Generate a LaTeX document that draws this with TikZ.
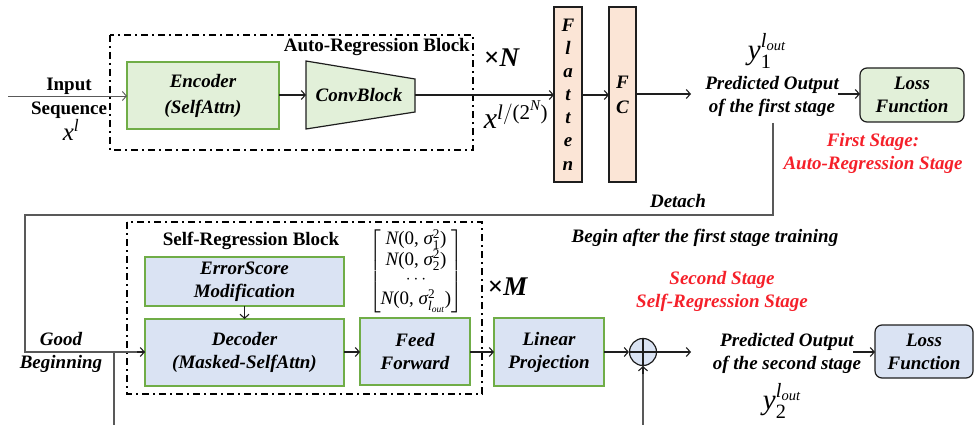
\documentclass[tikz,border=0pt]{standalone}
\usepackage{fontspec}
\setmainfont{Liberation Serif}
\usepackage{amsmath}
\usetikzlibrary{arrows.meta,calc}
\newcommand\myit[1]{\text{\normalfont\itshape #1}}
\newcommand\myrm[1]{\text{\normalfont #1}}
\definecolor{gfill}{HTML}{E2F0D9}
\definecolor{gline}{HTML}{70AD47}
\definecolor{bfill}{HTML}{DAE3F3}
\definecolor{pfill}{HTML}{FBE5D6}
\definecolor{dk}{HTML}{1E1E1E}
\definecolor{gr}{HTML}{595959}
\definecolor{redt}{HTML}{F5202A}
\tikzset{
  lbl/.style={font=\fontsize{19}{23}\selectfont\bfseries\itshape, align=center, inner sep=0pt, outer sep=0pt},
  upl/.style={font=\fontsize{19}{23}\selectfont\bfseries, align=center, inner sep=0pt},
  mth/.style={font=\fontsize{25}{28}\selectfont, inner sep=0pt},
  gbox/.style={lbl, draw=gline, fill=gfill, line width=1.2pt},
  bbox/.style={lbl, draw=gline, fill=bfill, line width=1.2pt},
  pbox/.style={lbl, draw=dk, fill=pfill, line width=1.2pt},
  lossbox/.style={lbl, draw=dk, line width=1.2pt, rounded corners=7pt},
  arr/.style={-{Straight Barb[length=4pt,width=9pt]}, line width=1.1pt, draw=dk},
  garr/.style={-{Straight Barb[length=4pt,width=9pt]}, line width=0.9pt, draw=gr},
  fb/.style={line width=1.6pt, draw=gr},
  dashbox/.style={draw=black, line width=1.5pt, dash pattern=on 7pt off 4pt on 2pt off 4pt},
  redlbl/.style={lbl, text=redt},
  times/.style={font=\fontsize{27}{30}\selectfont\bfseries, inner sep=0pt},
}
\begin{document}
\begin{tikzpicture}[x=1pt,y=-1pt]
\useasboundingbox (0,0) rectangle (974,425);

% ---------- first stage ----------
\draw[dashbox] (110,35) rectangle (473,150);
\node[upl, anchor=east] (arb) at (470,47) {Auto-Regression Block};
\node[times] (xN) at (502,58) {×\textit{N}};

\node[upl] (inp) at (69,86) {Input};
\node[upl] (seq) at (69,110) {Sequence};
\node[mth] (xl) at (71,130) {$\myit{x}^{\myit{l}}$};

\node[gbox, minimum width=152pt, minimum height=67pt, font=\fontsize{19}{26}\selectfont\bfseries\itshape] (enc) at (203,95.5) {Encoder\\(SelfAttn)};

\draw[draw=dk, fill=gfill, line width=1.2pt] (306,61) -- (415,79) -- (415,112) -- (306,129) -- cycle;
\node[lbl] (conv) at (359,95) {ConvBlock};
\coordinate (convW) at (306,95);
\coordinate (convE) at (415,95);

\node[pbox, minimum width=28pt, minimum height=175pt, font=\fontsize{19}{23.1}\selectfont\bfseries\itshape] (flat) at (568,94.5) {F\\l\\a\\t\\t\\e\\n};
\node[pbox, minimum width=27pt, minimum height=175pt, font=\fontsize{19}{25}\selectfont\bfseries\itshape] (fc) at (622.5,94.5) {F\\C};

\node[mth, font=\fontsize{30}{32}\selectfont] (xlN) at (516,115) {$\myit{x}^{\myit{l}/\myrm{(2}^{\myit{N}}\myrm{)}}$};

\coordinate (in0) at (8,96);
\draw[garr] (in0) -- (enc.west |- in0);
\draw[arr] (enc.east |- convW) -- (convW);
\draw[arr] (convE) -- (flat.west |- convE);
\draw[arr] (flat.east |- convE) -- (fc.west |- convE);
\coordinate (fcout) at (691,94);
\draw[arr] (fc.east |- fcout) -- (fcout);

\node[mth, font=\fontsize{29}{32}\selectfont] (y1) at (767,51) {$\myit{y}_{\myrm{1}}^{\myit{l}_{\myit{out}}}$};
\node[lbl] (pred1) at (772,96.5) {Predicted Output\\of the first stage};
\node[lossbox, fill=gfill, minimum width=104pt, minimum height=54pt] (loss1) at (912,95) {Loss\\Function};
\coordinate (p1out) at (838,94);
\draw[arr] (p1out) -- (loss1.west |- p1out);

\node[redlbl] (st1) at (873,153.5) {First Stage:\\Auto-Regression Stage};

% ---------- detach feedback ----------
\coordinate (det0) at (773,123);
\coordinate (det1) at (773,215);
\coordinate (det2) at (25,215);
\coordinate (det3) at (25,352);
\node[lbl] (detach) at (678,201) {Detach};
\node[lbl] (begin) at (705,238) {Begin after the first stage training};

% ---------- second stage ----------
\draw[dashbox] (127,222) rectangle (482,394);
\node[upl] (srb) at (251,241) {Self-Regression Block};
\node[times] (xM) at (508,287) {×\textit{M}};

\node[bbox, minimum width=199pt, minimum height=49pt] (err) at (244.5,281.5) {ErrorScore\\Modification};
\node[bbox, minimum width=199pt, minimum height=67pt] (dec) at (244.5,352.5) {Decoder\\(Masked-SelfAttn)};
\node[bbox, minimum width=110pt, minimum height=67pt] (ff) at (415,351.5) {Feed\\Forward};
\node[font=\fontsize{19}{20}\selectfont, inner sep=0pt] (mat) at (416,271)
  {$\left[\renewcommand{\arraystretch}{0.93}\begin{array}{@{}c@{}}
   \myit{N}\myrm{(0, }\myit{σ}_{\myrm{1}}^{\myrm{2}}\myrm{)}\\
   \myit{N}\myrm{(0, }\myit{σ}_{\myrm{2}}^{\myrm{2}}\myrm{)}\\
   \cdots\\
   \myit{N}\myrm{(0, }\myit{σ}_{\myit{l}_{\myit{out}}}^{\myrm{2}}\myrm{)}\end{array}\right]$};
\node[bbox, minimum width=110pt, minimum height=68pt] (lin) at (549,352) {Linear\\Projection};
\node[circle, draw=dk, fill=bfill, line width=1.2pt, minimum size=27pt, inner sep=0pt] (plus) at (643,352) {};
\draw[line width=1.3pt, draw=dk] (plus.north) -- (plus.south) (plus.west) -- (plus.east);

\node[lbl] (pred2) at (787,353.5) {Predicted Output\\of the second stage};
\node[lossbox, fill=bfill, minimum width=98pt, minimum height=53pt] (loss2) at (924,351.5) {Loss\\Function};
\node[mth, font=\fontsize{29}{32}\selectfont] (y2) at (782,401) {$\myit{y}_{\myrm{2}}^{\myit{l}_{\myit{out}}}$};
\node[redlbl] (st2) at (722,291.5) {Second Stage\\Self-Regression Stage};

\node[lbl] (good) at (61,352.5) {Good\\Beginning};

% connectors
\draw[fb] (det0) -- (det1) -- (det2) -- (det3) -- (dec.west |- det3);
\draw[arr] ($(dec.west |- det3)+(-8,0)$) -- (dec.west |- det3);
\coordinate (gb0) at (114,352);
\coordinate (gb1) at (114,425);
\draw[fb] (gb0) -- (gb1);

\draw[arr] (err.south) -- (dec.north);
\draw[arr] (dec.east |- det3) -- (ff.west |- det3);
\draw[arr] (ff.east |- det3) -- (lin.west |- det3);
\draw[arr] (lin.east |- plus) -- (plus.west);
\coordinate (plout) at (691,352);
\draw[arr] (plus.east) -- (plout);
\coordinate (p2out) at (853,352);
\draw[arr] (p2out) -- (loss2.west |- p2out);
\coordinate (pb0) at (643,425);
\draw[fb] (pb0) -- (plus.south);
\draw[arr] ($(plus.south)+(0,8)$) -- (plus.south);
\end{tikzpicture}
\end{document}
